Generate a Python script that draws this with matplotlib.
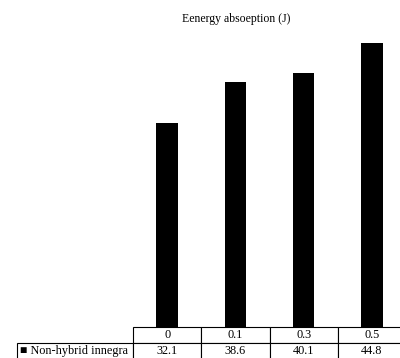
import matplotlib
matplotlib.use("Agg")
import matplotlib.pyplot as plt

categories = ["0", "0.1", "0.3", "0.5"]
series_name = "Non-hybrid innegra"
values = [32.1, 38.6, 40.1, 44.8]
title = "Eenergy absoeption (J)"

plt.rcParams["font.family"] = ["Liberation Serif", "DejaVu Sans"]

W, H = 400, 358
fig = plt.figure(figsize=(W / 100, H / 100), dpi=100)

# axes geometry in pixels
ax_left, ax_right = 133.0, 406.0
ax_bottom, ax_top = 326.5, 10.0
ax = fig.add_axes([ax_left / W, (H - ax_bottom) / H,
                   (ax_right - ax_left) / W, (ax_bottom - ax_top) / H])

x = range(len(categories))
ax.bar(x, values, width=0.316, color="black")
ax.set_xlim(-0.5, len(categories) - 0.5)
ax.set_ylim(0, 50)
ax.axis("off")

fig.text(236 / W, 1 - 19 / H, title, ha="center", va="center", fontsize=8.5)

# data table under the bars
ax_w = ax_right - ax_left
ax_h = ax_bottom - ax_top
label_left = 17.5
head_h, row_h = 16.0, 16.5
label_w = ax_left - label_left
col_w = ax_w / len(categories)
tbl = ax.table(cellText=[["\u25a0 " + series_name] + [f"{v:.1f}" for v in values]],
               colLabels=[""] + categories,
               colWidths=[label_w] + [col_w] * len(categories),
               cellLoc="center",
               bbox=[-label_w / ax_w, -(head_h + row_h) / ax_h,
                     (label_w + ax_w) / ax_w, (head_h + row_h) / ax_h])
tbl.auto_set_font_size(False)
for (r, c), cell in tbl.get_celld().items():
    cell.set_linewidth(0.8)
    cell.get_text().set_fontsize(8.8)
    cell.get_text().set_fontfamily(["Liberation Serif", "DejaVu Sans"])
    if r == 0:
        cell.set_height(head_h / ax_h)
    else:
        cell.set_height(row_h / ax_h)
    if r == 0 and c == 0:
        cell.visible_edges = ""
    if r == 1 and c == 0:
        cell.get_text().set_ha("left")
        cell.PAD = 0.02

fig.savefig("out.png", dpi=100)
